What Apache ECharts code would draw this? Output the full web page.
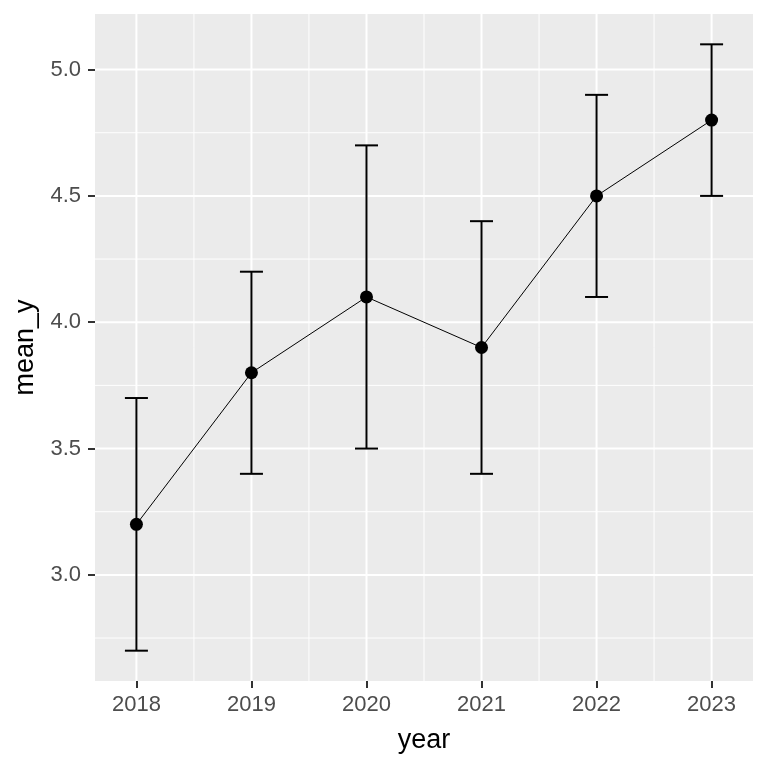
<!DOCTYPE html>
<html>
<head>
<meta charset="utf-8">
<script src="https://cdn.jsdelivr.net/npm/echarts@6/dist/echarts.min.js"></script>
<style>html,body{margin:0;padding:0;background:#fff}#c{width:768px;height:768px}</style>
</head>
<body>
<div id="c"></div>
<script>
var years = [2018, 2019, 2020, 2021, 2022, 2023];
var meanY = [3.2, 3.8, 4.1, 3.9, 4.5, 4.8];
var lowY = [2.7, 3.4, 3.5, 3.4, 4.1, 4.5];
var highY = [3.7, 4.2, 4.7, 4.4, 4.9, 5.1];
var xTicks = [2018, 2019, 2020, 2021, 2022, 2023];
var xMinor = [2018.5, 2019.5, 2020.5, 2021.5, 2022.5];
var yTicks = [3.0, 3.5, 4.0, 4.5, 5.0];
var yMinor = [2.75, 3.25, 3.75, 4.25, 4.75];
var xMin = 2017.64, xMax = 2023.36, yMin = 2.58, yMax = 5.22;
var capHalf = 0.1;

var gridData = [];
xTicks.forEach(function (v) { gridData.push([v, 0, 2]); });
xMinor.forEach(function (v) { gridData.push([v, 0, 1]); });
yTicks.forEach(function (v) { gridData.push([v, 1, 2]); });
yMinor.forEach(function (v) { gridData.push([v, 1, 1]); });

var errData = years.map(function (y, i) { return [y, lowY[i], highY[i]]; });
var lineData = years.map(function (y, i) { return [y, meanY[i]]; });

var FONT = 'Liberation Sans';
var chart = echarts.init(document.getElementById('c'));
chart.setOption({
  animation: false,
  backgroundColor: '#ffffff',
  grid: { left: 95, right: 15, top: 14, bottom: 87, show: true, backgroundColor: '#EBEBEB', borderWidth: 0 },
  xAxis: {
    type: 'value', min: xMin, max: xMax,
    name: 'year', nameLocation: 'middle', nameGap: 46,
    nameTextStyle: { fontFamily: FONT, fontSize: 27, color: '#000' },
    axisLine: { show: false },
    axisTick: { show: true, customValues: xTicks, length: 7, lineStyle: { color: '#333333', width: 2 } },
    axisLabel: { customValues: xTicks, margin: 13, fontFamily: FONT, fontSize: 22, color: '#4D4D4D', formatter: function (v) { return String(Math.round(v)); } },
    splitLine: { show: false }
  },
  yAxis: {
    type: 'value', min: yMin, max: yMax,
    name: 'mean_y', nameLocation: 'middle', nameGap: 52,
    nameTextStyle: { fontFamily: FONT, fontSize: 27, color: '#000' },
    axisLine: { show: false },
    axisTick: { show: true, customValues: yTicks, length: 7, lineStyle: { color: '#333333', width: 2 } },
    axisLabel: { customValues: yTicks, margin: 14, fontFamily: FONT, fontSize: 22, color: '#4D4D4D', formatter: function (v) { return v.toFixed(1); } },
    splitLine: { show: false }
  },
  series: [
    {
      type: 'custom', name: 'grid', silent: true, z: 0,
      data: gridData,
      renderItem: function (params, api) {
        var cs = params.coordSys;
        var v = api.value(0), dir = api.value(1), w = api.value(2);
        var shape;
        if (dir === 0) {
          var px = api.coord([v, yMin])[0];
          shape = { x1: px, y1: cs.y, x2: px, y2: cs.y + cs.height };
        } else {
          var py = api.coord([xMin, v])[1];
          shape = { x1: cs.x, y1: py, x2: cs.x + cs.width, y2: py };
        }
        return { type: 'line', shape: shape, style: { stroke: '#FFFFFF', lineWidth: w } };
      }
    },
    {
      type: 'custom', name: 'errorbar', silent: true, z: 2,
      data: errData,
      renderItem: function (params, api) {
        var x = api.value(0), lo = api.value(1), hi = api.value(2);
        var pLo = api.coord([x, lo]), pHi = api.coord([x, hi]);
        var l = api.coord([x - capHalf, lo])[0], r = api.coord([x + capHalf, lo])[0];
        var st = { stroke: '#000', lineWidth: 2 };
        return {
          type: 'group',
          children: [
            { type: 'line', shape: { x1: pLo[0], y1: pLo[1], x2: pHi[0], y2: pHi[1] }, style: st },
            { type: 'line', shape: { x1: l, y1: pLo[1], x2: r, y2: pLo[1] }, style: st },
            { type: 'line', shape: { x1: l, y1: pHi[1], x2: r, y2: pHi[1] }, style: st }
          ]
        };
      }
    },
    {
      type: 'line', name: 'mean', z: 3,
      data: lineData,
      symbol: 'circle', symbolSize: 13,
      lineStyle: { color: '#000', width: 1 },
      itemStyle: { color: '#000' }
    }
  ]
});
</script>
</body>
</html>
